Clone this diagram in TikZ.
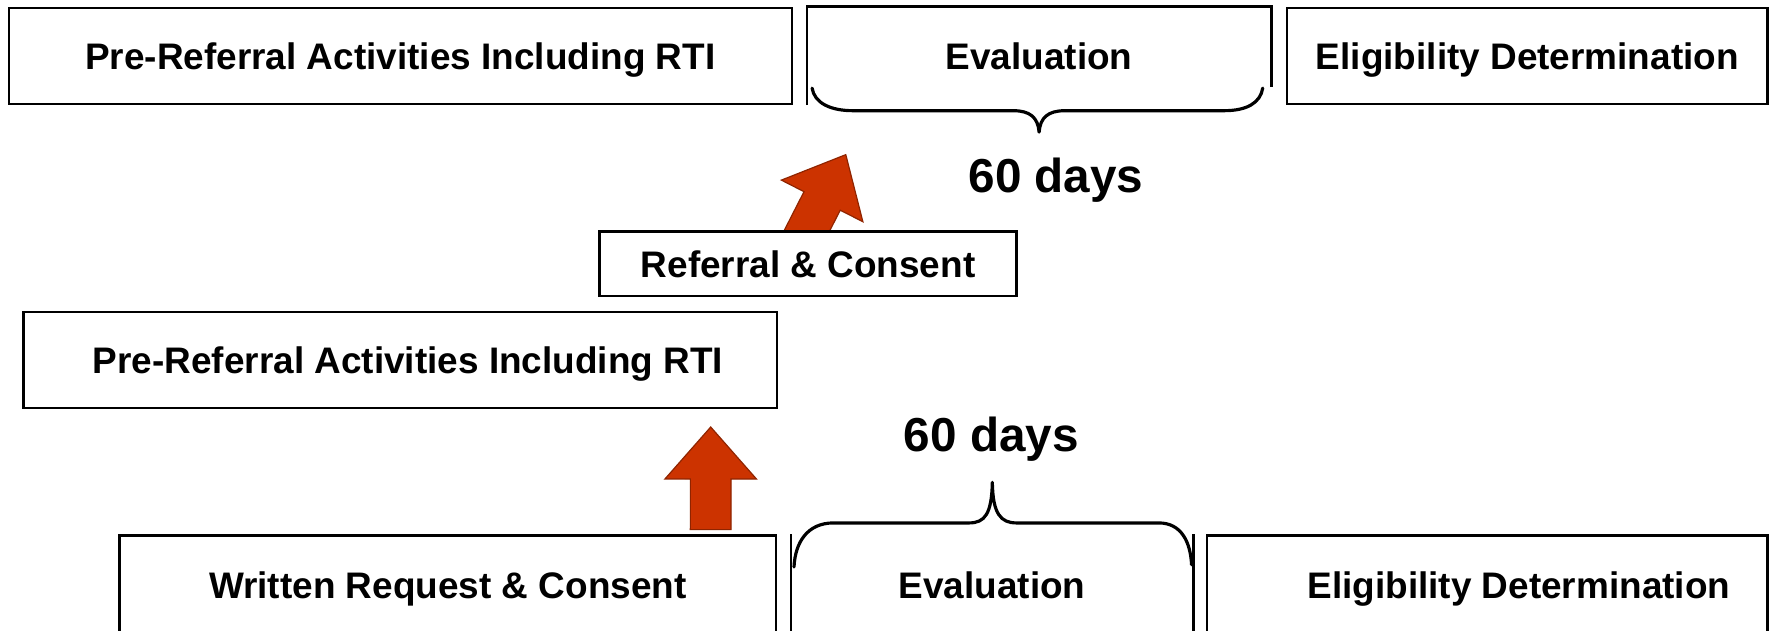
\documentclass[tikz,border=0pt]{standalone}
\usepackage{fontspec}
\setmainfont{Liberation Sans}
\usetikzlibrary{positioning, calc}
\definecolor{arrowred}{RGB}{204,51,0}
\pgfdeclarelayer{background}
\pgfsetlayers{background,main}
\tikzstyle{stagebox} = [rectangle, draw=black, line width=0.6pt, fill=white, inner sep=0pt, align=center, font=\fontsize{9.3}{11}\selectfont\bfseries, text height=6.7pt, text depth=0pt]
\tikzstyle{bracepath} = [line width=0.8pt, line cap=round, line join=round]
% block arrow from #1 (base) to #2 (tip)
\newcommand{\blockarrow}[2]{%
  \path ($(#2)!0.46cm!(#1)$) coordinate (ahead);
  \fill[arrowred, draw=arrowred!70!black, line width=0.3pt]
    ($(#1)!0.18cm!90:(#2)$) -- ($(ahead)!0.18cm!90:(#2)$) -- ($(ahead)!0.405cm!90:(#2)$)
    -- (#2) -- ($(ahead)!0.405cm!-90:(#2)$) -- ($(ahead)!0.18cm!-90:(#2)$)
    -- ($(#1)!0.18cm!-90:(#2)$) -- cycle;}

\begin{document}
\begin{tikzpicture}[x=0.01cm, y=-0.01cm,
    days/.style={font=\fontsize{12}{14}\selectfont\bfseries, anchor=base, inner sep=0pt}
  ]
    \useasboundingbox (0,0) rectangle (1568,558);
    \clip (0,0) rectangle (1568,558);

    % Referral route (top)
    \node[stagebox, minimum width=6.93cm, minimum height=0.85cm] (A1) at (354.5,49.5) {Pre-Referral Activities Including RTI};
    \node[stagebox, draw=none, minimum width=4.09cm, minimum height=0.85cm, right=0.12cm of A1] (A2) {Evaluation};
    \node[stagebox, minimum width=4.25cm, minimum height=0.85cm, right=0.13cm of A2] (A3) {Eligibility Determination};
    \node[stagebox, minimum width=3.69cm, minimum height=0.57cm] (R) at (715.5,233.5) {Referral \& Consent};
    \node[stagebox, minimum width=6.665cm, minimum height=0.85cm] (B1) at (354.25,318.5) {\hspace*{0.14cm}Pre-Referral Activities Including RTI};

    % Written request route (bottom)
    \node[stagebox, minimum width=5.81cm, minimum height=0.88cm] (B3) at (396.5,518) {Written Request \& Consent};
    \node[stagebox, draw=none, minimum width=3.54cm, minimum height=0.88cm, right=0.12cm of B3] (B4) {Evaluation};
    \node[stagebox, minimum width=4.96cm, minimum height=0.88cm, right=0.11cm of B4] (B5) {\hspace*{0.56cm}Eligibility Determination};

    % open sides of the evaluation boxes
    \draw[line width=0.6pt] (A2.south west) -- (A2.north west) -- (A2.north east) -- ++(0,71);
    \draw[line width=0.6pt] (B4.north west) -- (B4.south west);
    \draw[line width=0.6pt] (B4.north east) -- (B4.south east);

    % braces and day counts
    \draw[bracepath] (719,78) .. controls (721,91) and (735,98) .. (755,98) -- (897,98)
      .. controls (912,98) and (919,104) .. (920,117) .. controls (921,104) and (928,98) .. (943,98)
      -- (1084,98) .. controls (1104,98) and (1116,91) .. (1118,78);
    \node[days] (D1) at (935,170.6) {60 days};
    \draw[bracepath] (703,502) .. controls (704,480) and (715,463) .. (738,463) -- (858,463)
      .. controls (872,463) and (878,455) .. (878.6,427) .. controls (879,455) and (886,463) .. (900,463)
      -- (1026,463) .. controls (1046,463) and (1054,480) .. (1055,500);
    \node[days] (D2) at (877.7,400) {60 days};

    % red block arrows
    \coordinate (upbase) at ($(B3.north east)+(-59,-4)$);
    \coordinate (uptip) at ($(B1.south east)+(-59.5,16)$);
    \coordinate (diagbase) at ($(R.north west)+(172,25)$);
    \coordinate (diagtip) at ($(R.north west)+(219,-67)$);
    \blockarrow{upbase}{uptip}
    \begin{pgfonlayer}{background}
      \blockarrow{diagbase}{diagtip}
    \end{pgfonlayer}
  \end{tikzpicture}
\end{document}
